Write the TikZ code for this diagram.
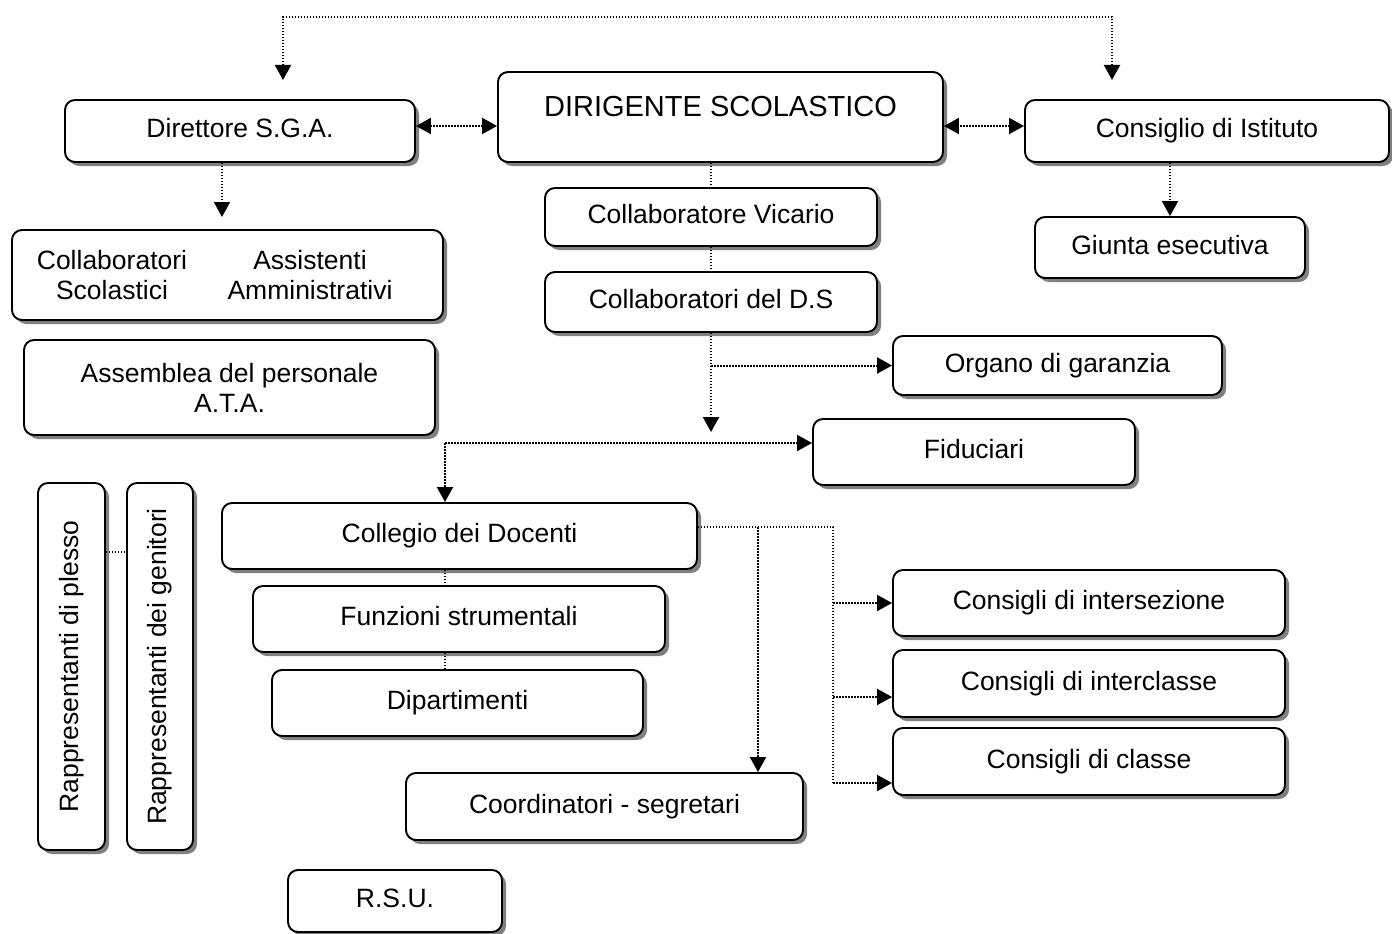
\documentclass[tikz,border=0pt]{standalone}
\usepackage{fontspec}
\setmainfont{Liberation Sans}
\usetikzlibrary{arrows.meta,shadows}

\newcommand{\testonodo}{\fontsize{26.5}{30}\selectfont}
\newcommand{\testotitolo}{\fontsize{29}{33}\selectfont}

\tikzset{
  cornice/.style={draw, line width=1.9pt, rounded corners=10pt, fill=white,
    drop shadow={shadow xshift=4pt, shadow yshift=-4pt, fill=black!50, opacity=1},
    inner sep=0pt, font=\testonodo},
  box/.style={cornice, text height=19pt, text depth=6pt},
  scritta/.style={font=\testonodo, align=center, inner sep=0pt},
  link/.style={line width=2pt, dash pattern=on 1.5pt off 1.5pt},
  tip/.style={-{Triangle[length=15pt,width=16pt]}},
  tips/.style={{Triangle[length=15pt,width=16pt]}-{Triangle[length=15pt,width=16pt]}}
}

\begin{document}
\begin{tikzpicture}[x=1pt, y=-1pt]
\useasboundingbox (0,0) rectangle (1392,934);

% vertice
\node[box, minimum width=445pt, minimum height=90pt,
      label={[font=\testotitolo, yshift=10pt]center:DIRIGENTE SCOLASTICO}] (ds) at (720.5,117) {};
\node[box, minimum width=350pt, minimum height=62pt] (dsga) at (240,131) {Direttore S.G.A.};
\node[box, minimum width=364pt, minimum height=62pt] (ci) at (1207,131) {Consiglio di Istituto};
\node[box, minimum width=270pt, minimum height=61pt] (giunta) at (1170,247.5) {Giunta esecutiva};

% personale ATA
\node[cornice, minimum width=431pt, minimum height=90pt] (personale) at (227.5,275) {};
\node[scritta] (collscol) at (112,275) {Collaboratori\\Scolastici};
\node[scritta] (assamm) at (310,275) {Assistenti\\Amministrativi};
\node[cornice, minimum width=411pt, minimum height=95pt, align=center] (ata) at (229.5,387.5) {Assemblea del personale\\A.T.A.};

% staff
\node[box, minimum width=332pt, minimum height=58pt] (vicario) at (711,217) {Collaboratore Vicario};
\node[box, minimum width=332pt, minimum height=60pt] (collabds) at (711,302) {Collaboratori del D.S};
\node[box, minimum width=329pt, minimum height=59pt] (organo) at (1057.5,365.5) {Organo di garanzia};
\node[box, minimum width=322pt, minimum height=66pt] (fiduciari) at (974,452) {Fiduciari};

% collegio
\node[box, minimum width=475pt, minimum height=66pt] (collegio) at (459.5,536) {Collegio dei Docenti};
\node[box, minimum width=412pt, minimum height=66pt] (funzioni) at (459,619) {Funzioni strumentali};
\node[box, minimum width=371pt, minimum height=66pt] (dipartimenti) at (457.5,703) {Dipartimenti};
\node[box, minimum width=397pt, minimum height=67pt] (coordinatori) at (604.5,806.5) {Coordinatori - segretari};
\node[box, minimum width=214pt, minimum height=62pt] (rsu) at (395,901) {R.S.U.};

% consigli
\node[box, minimum width=392pt, minimum height=66pt] (intersezione) at (1089,603) {Consigli di intersezione};
\node[box, minimum width=392pt, minimum height=67pt] (interclasse) at (1089,683.5) {Consigli di interclasse};
\node[box, minimum width=392pt, minimum height=67pt] (classe) at (1089,761.5) {Consigli di classe};

% rappresentanti
\node[cornice, minimum width=67pt, minimum height=367pt] (plesso) at (71.5,666.5) {\rotatebox{90}{Rappresentanti di plesso}};
\node[cornice, minimum width=66pt, minimum height=367pt] (genitori) at (160,666.5) {\rotatebox{90}{Rappresentanti dei genitori}};

% collegamenti
\coordinate (toDSGA) at (283,80);
\coordinate (toCI) at (1112,80);
\coordinate (cornerL) at (283,17);
\coordinate (cornerR) at (1112,17);
\draw[link,tips] (toDSGA) -- (cornerL) -- (cornerR) -- (toCI);

\draw[link,tips] ([yshift=5pt]dsga.east) -- ([yshift=-9pt]ds.west);
\draw[link,tips] ([yshift=5pt]ci.west) -- ([yshift=-9pt]ds.east);

\coordinate (dsgaTip) at (222,217);
\draw[link,tip] (dsga.south -| dsgaTip) -- (dsgaTip);
\draw[link,tip] (ci.south -| giunta.north) -- (giunta.north);

\draw[link] (ds.south -| vicario.north) -- (vicario.north);
\draw[link] (vicario) -- (collabds);
\coordinate (dsTip) at (711,432);
\draw[link,tip] (collabds.south) -- (dsTip);
\draw[link,tip] (collabds.south |- organo.west) -- (organo.west);

\coordinate (snodo) at (445,443);
\draw[link,tip] (snodo) -- (snodo -| fiduciari.west);
\draw[link,tip] (snodo) -- (snodo |- collegio.north);
\draw[link] (collegio.south -| snodo) -- (funzioni.north -| snodo);
\draw[link] (funzioni.south -| snodo) -- (dipartimenti.north -| snodo);

\coordinate (ramo) at (758,527);
\coordinate (giunto) at (833,527);
\coordinate (kInterclasse) at (833,697);
\coordinate (kClasse) at (833,783);
\draw[link] (collegio.east |- giunto) -- (giunto) -- (kClasse);
\draw[link,tip] (ramo) -- (ramo |- coordinatori.north);
\draw[link,tip] (intersezione.west -| giunto) -- (intersezione.west);
\draw[link,tip] (kInterclasse) -- (kInterclasse -| interclasse.west);
\draw[link,tip] (kClasse) -- (kClasse -| classe.west);

\draw[link] ([yshift=114.5pt]plesso.east) -- ([yshift=114.5pt]genitori.west);
\end{tikzpicture}
\end{document}
